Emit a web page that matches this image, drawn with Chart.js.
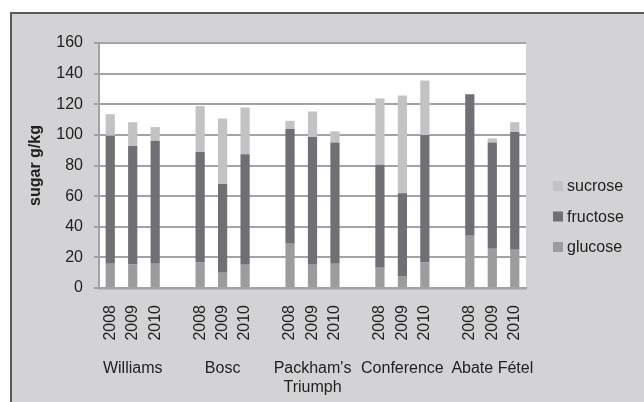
<!DOCTYPE html>
<html><head><meta charset="utf-8">
<script src="https://cdn.jsdelivr.net/npm/chart.js@4"></script>
<style>
html,body{margin:0;padding:0;width:644px;height:402px;overflow:hidden;background:#fff}
#frame{position:absolute;left:10px;top:12px;width:700px;height:500px;background:#d3d3d5;border-left:2px solid #58585a;border-top:2px solid #58585a}
#wrap{position:absolute;left:0;top:0;width:644px;height:402px}
</style></head><body>
<div id="frame"></div>
<div id="wrap"><canvas id="c"></canvas></div>
<script>
// Pear varieties and harvest years
const varieties = ["Williams", "Bosc", ["Packham's", "Triumph"], "Conference", "Abate Fétel"];
const years = ["2008", "2009", "2010"];

// Sugar content, g/kg, per variety and year (2008, 2009, 2010)
const glucose  = [15.8, 15.6, 15.8,  16.7, 10.0, 15.2,  28.9, 15.2, 15.8,  13.2, 7.4, 16.7,  34.1, 25.6, 25.0];
const fructose = [83.6, 77.1, 80.4,  72.1, 57.9, 72.1,  74.9, 83.4, 79.3,  67.3, 54.5, 83.2,  92.5, 69.4, 76.8];
const sucrose  = [14.1, 15.6, 8.9,   30.0, 42.8, 30.6,  5.4, 16.7, 7.2,    43.3, 63.8, 35.6,  0.0, 2.7, 6.5];

const yTicks = { min: 0, max: 160, step: 20 };

// Spread the groups over the category axis with an empty slot between varieties
function slotted(values) {
  const out = [];
  varieties.forEach((v, i) => {
    for (let j = 0; j < years.length; j++) out.push(values[i * years.length + j]);
    if (i < varieties.length - 1) out.push(null);
  });
  return out;
}
const yearLabels = [];
const groupLabels = [];
varieties.forEach((v, i) => {
  years.forEach((y, j) => { yearLabels.push(y); groupLabels.push(j === 1 ? v : ''); });
  if (i < varieties.length - 1) { yearLabels.push(''); groupLabels.push(''); }
});

const FONT = '"Liberation Sans", Arial, Helvetica, sans-serif';
Chart.defaults.font.family = FONT;
Chart.defaults.font.size = 16;
Chart.defaults.color = '#222';

const GRID = '#a3a3a7';

const plotBackground = {
  id: 'plotBackground',
  beforeDraw(chart) {
    const a = chart.chartArea, ctx = chart.ctx;
    ctx.save();
    ctx.fillStyle = '#ffffff';
    ctx.fillRect(a.left, a.top, a.right - a.left, a.bottom - a.top);
    ctx.restore();
  }
};

// Legend to the right of the plot, listed top series first
const sideLegend = {
  id: 'sideLegend',
  afterDraw(chart) {
    const ctx = chart.ctx, a = chart.chartArea;
    const items = chart.data.datasets.slice().reverse();
    ctx.save();
    ctx.font = '16px ' + FONT;
    ctx.textBaseline = 'middle';
    ctx.textAlign = 'left';
    items.forEach((d, i) => {
      const y = 186 + i * 30.5;
      const x = a.right + 27;
      ctx.fillStyle = d.backgroundColor;
      ctx.fillRect(x, y - 5, 10, 10);
      ctx.fillStyle = '#222';
      ctx.fillText(d.label, x + 14, y + 1);
    });
    ctx.restore();
  }
};

new Chart(document.getElementById('c'), {
  type: 'bar',
  data: {
    labels: yearLabels,
    datasets: [
      { label: 'glucose',  data: slotted(glucose),  backgroundColor: '#9c9c9f' },
      { label: 'fructose', data: slotted(fructose), backgroundColor: '#707074' },
      { label: 'sucrose',  data: slotted(sucrose),  backgroundColor: '#c3c3c6' }
    ]
  },
  options: {
    responsive: true,
    maintainAspectRatio: false,
    animation: false,
    layout: { padding: { top: 43, right: 118, bottom: 0, left: 0 } },
    datasets: { bar: { categoryPercentage: 1, barPercentage: 0.41 } },
    plugins: { legend: { display: false }, tooltip: { enabled: false } },
    scales: {
      x: {
        stacked: true,
        weight: 0,
        grid: { display: false, drawTicks: false },
        border: { display: true, color: GRID, width: 2.5 },
        ticks: { autoSkip: false, minRotation: 90, maxRotation: 90, padding: 17, font: { size: 16 } },
        afterFit(s) { s.height = 55; }
      },
      x2: {
        type: 'category',
        position: 'bottom',
        weight: 1,
        offset: true,
        labels: groupLabels,
        grid: { display: false, drawTicks: false },
        border: { display: false },
        ticks: { autoSkip: false, maxRotation: 0, minRotation: 0, padding: 16, font: { size: 16 } },
        afterFit(s) { s.height = 59; }
      },
      y: {
        stacked: true,
        min: yTicks.min,
        max: yTicks.max,
        ticks: { stepSize: yTicks.step, padding: 11, font: { size: 16 } },
        grid: { color: GRID, lineWidth: 2, tickLength: 5 },
        border: { color: GRID, width: 2 },
        title: { display: true, text: 'sugar g/kg', font: { size: 16, weight: 'bold' }, padding: { top: 26, bottom: 0 } },
        afterFit(s) { s.width = 99; }
      }
    }
  },
  plugins: [plotBackground, sideLegend]
});
</script>
</body></html>
